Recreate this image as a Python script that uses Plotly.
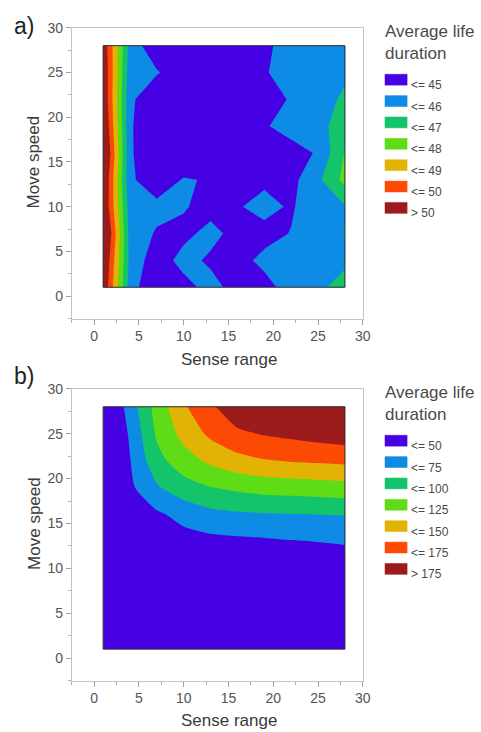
import plotly.graph_objects as go

W, H = 481, 732

# ---------------- data ----------------
sense_range = [1, 4, 7, 10, 13, 16, 19, 22, 25, 28]
move_speed = [1, 4, 7, 10, 13, 16, 19, 22, 25, 28]

# panel a) average life duration, rows = move speed (ascending), cols = sense range
life_a = [
    [51.0, 45.5, 44.0, 44.6, 45.4, 44.54, 44.6, 45.5, 45.7, 46.6],
    [51.3, 45.7, 44.4, 45.4, 44.8, 44.6, 45.3, 45.4, 45.5, 45.7],
    [52.0, 45.6, 44.9, 44.7, 45.35, 44.6, 44.6, 45.05, 45.5, 46.03],
    [51.2, 45.5, 45.3, 45.1, 44.6, 44.9, 45.4, 44.85, 45.85, 45.95],
    [51.3, 45.2, 44.3, 45.1, 44.9, 44.6, 44.77, 44.7, 45.8, 47.3],
    [51.8, 45.2, 43.7, 44.0, 44.0, 44.3, 44.3, 44.6, 45.1, 47.05],
    [51.3, 45.2, 43.6, 44.0, 44.0, 44.2, 44.9, 45.4, 45.75, 46.4],
    [51.0, 45.25, 44.0, 44.1, 44.0, 44.1, 44.5, 45.1, 45.5, 46.2],
    [51.0, 45.4, 45.1, 44.3, 44.0, 44.0, 44.9, 45.5, 45.6, 45.8],
    [50.8, 45.6, 44.27, 44.0, 44.0, 44.2, 44.75, 45.5, 45.6, 45.8],
]

# panel b)
life_b = [
    [5, 8, 9, 10, 11, 12, 13, 14, 15, 16],
    [5.5, 12, 13, 14, 15, 16, 17, 18, 19, 20],
    [6, 18, 19, 20, 21, 22, 23, 24, 25, 26],
    [7, 25, 26, 27, 28, 29, 30, 31, 33, 35],
    [8, 33, 36, 40, 43, 45, 46.5, 48.7, 50.4, 52.3],
    [9, 41, 46, 58, 67.9, 71.4, 73.2, 74.2, 75, 76.2],
    [10, 45, 72.2, 89.8, 99.4, 105.3, 109.6, 111.5, 113.6, 115.6],
    [11, 49, 92, 114, 130.4, 142, 148.7, 151.9, 153.6, 155.7],
    [11.5, 53.5, 103.5, 133.3, 155.3, 169.8, 177, 181, 185.5, 189.5],
    [12, 61.6, 110, 147, 170, 195, 200, 205, 210, 220],
]

levels_a = [45, 46, 47, 48, 49, 50]
levels_b = [50, 75, 100, 125, 150, 175]
labels_a = ["<= 45", "<= 46", "<= 47", "<= 48", "<= 49", "<= 50", "> 50"]
labels_b = ["<= 50", "<= 75", "<= 100", "<= 125", "<= 150", "<= 175", "> 175"]
band_colors = ["#4600E4", "#0E8BE4", "#14C46A", "#5EDC16", "#E2B204", "#FC4A04", "#9C1C1E"]

tick_vals = [0, 5, 10, 15, 20, 25, 30]
tick_text = ["0", "5", "10", "15", "20", "25", "30"]

# ---------------- layout helpers ----------------
def px(x):
    return x / W

def py(y):
    return 1 - y / H

FONT = "Liberation Sans, Arial, sans-serif"
n = len(band_colors)
cscale = [[i / (n - 1), c] for i, c in enumerate(band_colors)]

fig = go.Figure()

panels = [
    dict(z=life_a, levels=levels_a, labels=labels_a, xa="x", ya="y",
         smooth=0, letter="a)", letter_y=18.5,
         xtitle_y=355, leg_title_y=16, sw_top=67),
    dict(z=life_b, levels=levels_b, labels=labels_b, xa="x2", ya="y2",
         smooth=0.6, letter="b)", letter_y=372,
         xtitle_y=720, leg_title_y=381, sw_top=432),
]

shapes = []
annotations = []

for p in panels:
    lv = p["levels"]
    fig.add_trace(go.Contour(
        x=sense_range, y=move_speed, z=p["z"],
        xaxis=p["xa"], yaxis=p["ya"],
        autocontour=False,
        contours=dict(start=lv[0], end=lv[-1], size=lv[1] - lv[0], coloring="fill", showlines=False),
        colorscale=cscale, showscale=False,
        line=dict(width=0, smoothing=p["smooth"]),
        hoverinfo="skip",
    ))
    # dark outline around the data region
    shapes.append(dict(type="rect", xref=p["xa"], yref=p["ya"],
                       x0=min(sense_range), x1=max(sense_range),
                       y0=min(move_speed), y1=max(move_speed),
                       line=dict(color="#2a2a2a", width=1), layer="above"))
    # axis titles
    annotations.append(dict(text="Sense range", xref=p["xa"], yref="paper",
                            x=15, y=py(p["xtitle_y"]), showarrow=False,
                            font=dict(size=17, color="#3a3a3a", family=FONT),
                            xanchor="center", yanchor="middle"))
    annotations.append(dict(text="Move speed", xref="paper", yref=p["ya"],
                            x=px(35), y=15, showarrow=False, textangle=-90,
                            font=dict(size=17, color="#3a3a3a", family=FONT),
                            xanchor="center", yanchor="middle"))
    # panel letter
    annotations.append(dict(text=p["letter"], xref="paper", yref="paper",
                            x=px(12), y=py(p["letter_y"]), showarrow=False,
                            font=dict(size=23, color="#222222", family=FONT),
                            xanchor="left", yanchor="middle"))
    # legend
    annotations.append(dict(text="Average life<br>duration", xref="paper", yref="paper",
                            x=px(389), y=py(p["leg_title_y"] - 4), showarrow=False, align="left",
                            font=dict(size=17, color="#4a4a4a", family=FONT),
                            xanchor="left", yanchor="top"))
    for i, (lab, col) in enumerate(zip(p["labels"], band_colors)):
        t = p["sw_top"] + i * 21.6
        shapes.append(dict(type="rect", xref="paper", yref="paper",
                           x0=px(391.5), x1=px(414), y0=py(t + 11), y1=py(t),
                           fillcolor=col, line=dict(color=col, width=0.5)))
        annotations.append(dict(text=lab, xref="paper", yref="paper",
                                x=px(416), y=py(t + 11), showarrow=False,
                                font=dict(size=12, color="#4a4a4a", family=FONT),
                                xanchor="left", yanchor="middle"))

def axis_common():
    return dict(
        range=[-2.5, 30], tickmode="array", tickvals=tick_vals, ticktext=tick_text,
        ticks="outside", ticklen=5, tickcolor="#a0a0a0", tickwidth=1,
        minor=dict(dtick=2.5, tick0=0, ticks="outside", ticklen=3, tickcolor="#b0b0b0", showgrid=False),
        showline=True, linecolor="#c4c4c4", linewidth=1, mirror=True,
        showgrid=False, zeroline=False,
        tickfont=dict(size=14, color="#555555", family=FONT),
    )

xdom = [px(73), px(369)]
fig.update_layout(
    width=W, height=H,
    margin=dict(l=0, r=0, t=0, b=0),
    paper_bgcolor="white", plot_bgcolor="white",
    showlegend=False,
    xaxis=dict(domain=xdom, anchor="y", **axis_common()),
    yaxis=dict(domain=[py(314), py(20)], anchor="x", **axis_common()),
    xaxis2=dict(domain=xdom, anchor="y2", **axis_common()),
    yaxis2=dict(domain=[py(680), py(385)], anchor="x2", **axis_common()),
    shapes=shapes,
    annotations=annotations,
    font=dict(family=FONT),
)

fig.write_html("out.html")
